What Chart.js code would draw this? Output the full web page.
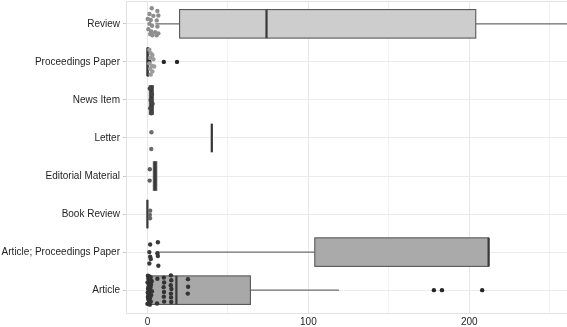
<!DOCTYPE html>
<html><head><meta charset="utf-8">
<script src="https://cdn.jsdelivr.net/npm/chart.js@4/dist/chart.umd.min.js"></script>
<style>html,body{margin:0;padding:0;background:#fff;}canvas{display:block;}</style>
</head><body>
<canvas id="c" width="567" height="327"></canvas>
<script>
// ---- data ----
const categories = ['Review','Proceedings Paper','News Item','Letter','Editorial Material','Book Review','Article; Proceedings Paper','Article'];
const whiskerLow  = [5,   0,   1.2, 40, 3.7, 0, 6,   0];
const q1          = [20,  0,   1.2, 40, 3.7, 0, 104, 0];
const median      = [74,  0,   2.5, 40, 4.8, 0, 212, 18];
const q3          = [204, 0.6, 3.7, 40, 5.8, 0, 212, 64];
const whiskerHigh = [268, 0.6, 3.7, 40, 5.8, 0, 212, 119];

const reviewVals = [2.7,6.2,1.3,3.7,6.8,0.2,2.1,5.8,1.3,2.9,6.2,0.6,2.3,4.8,6.8,1.7,3.1,5.8];
const reviewJit  = [-0.41,-0.34,-0.26,-0.21,-0.22,-0.13,-0.1,-0.09,0,0.05,0.07,0.14,0.2,0.22,0.25,0.27,0.3,0.3];
const procVals = [1.2,2.1,3.1,1.7,3.7,1.2,2.7,4.2,1.7,3.1,2.1];
const procJit  = [-0.32,-0.23,-0.18,-0.11,-0.07,0.04,0.1,0.12,0.18,0.25,0.33];
const newsVals = [1.5,2.8,2.0,3.2,1.8,2.5];
const newsJit  = [-0.3,-0.15,0,0.1,0.22,0.35];
const letterVals = [2.5,2.4];
const letterJit  = [-0.15,0.29];
const editVals = [1.5,1.4];
const editJit  = [-0.18,0.12];
const bookVals = [1.7,1.5,1.6];
const bookJit  = [-0.09,0.02,0.11];
const artProcVals = [1.7,6.5,1.2,6.2,1.7,6.5,1.2,6.8,2.1];
const artProcJit  = [-0.2,-0.26,0,0.03,0.12,0.1,0.3,0.36,0.18];
const articleVals = [0.3,1.2,2.0,0.6,1.6,2.6,0.1,1.0,2.2,0.8,1.9,0.4,1.4,2.8,0.2,1.1,2.4,0.7,1.7,0.5,1.3,2.1,0.9,0.0,1.5,2.5,0.6,1.8,0.3,1.0,
  6.2,6.0,
  10.2,10.4,10.1,10.3,10.2,10.4,
  14.6,14.8,14.5,14.9,14.6,14.7,14.8,
  25.2,25.3,25.1];
const articleJit  = [-0.38,-0.36,-0.34,-0.3,-0.27,-0.24,-0.2,-0.17,-0.14,-0.1,-0.07,-0.04,0,0.03,0.06,0.1,0.13,0.16,0.2,0.23,0.26,0.3,0.33,0.36,0.38,-0.22,0.08,-0.12,0.18,0.28,
  -0.3,0.35,
  -0.33,-0.2,-0.08,0.05,0.17,0.3,
  -0.39,-0.26,-0.13,-0.03,0.09,0.19,0.31,
  -0.29,-0.09,0.09];
const outlierCats = [1,1,1,7,7,7];
const outlierVals = [1.2,10.2,18.4,178,183,208];
const xTicks = [0,50,100,150,200,250];

// ---- styles ----
const pointGroups = [
  {cat:0, vals:reviewVals,  jit:reviewJit,  color:'#8e8e8e'},
  {cat:1, vals:procVals,    jit:procJit,    color:'#9c9c9c'},
  {cat:2, vals:newsVals,    jit:newsJit,    color:'#454545'},
  {cat:3, vals:letterVals,  jit:letterJit,  color:'#6c6c6c'},
  {cat:4, vals:editVals,    jit:editJit,    color:'#5e5e5e'},
  {cat:5, vals:bookVals,    jit:bookJit,    color:'#666666'},
  {cat:6, vals:artProcVals, jit:artProcJit, color:'#3a3a3a'},
  {cat:7, vals:articleVals, jit:articleJit, color:'#333333'}
];
const boxFills = ['#cdcdcd','#444444','#444444','#444444','#3c3c3c','#444444','#aaaaaa','#a8a8a8'];
const FONT = {family:'"Liberation Sans", Arial, Helvetica, sans-serif', size:10};

const datasets = pointGroups.map(g => ({
  data: g.vals.map((v,i) => ({x:v, y:g.cat + g.jit[i]})),
  backgroundColor: g.color, pointRadius: 2.2, pointBorderWidth: 0
}));
datasets.push({
  data: outlierVals.map((v,i) => ({x:v, y:outlierCats[i]})),
  backgroundColor:'#262626', pointRadius: 2.2, pointBorderWidth: 0
});

const boxPlugin = {
  id:'boxes',
  beforeDatasetsDraw(chart){
    const {ctx, chartArea:a, scales:{x,y}} = chart;
    ctx.save();
    ctx.strokeStyle = '#e2e2e2'; ctx.lineWidth = 1;
    ctx.beginPath(); ctx.moveTo(a.left, a.top+0.5); ctx.lineTo(a.right, a.top+0.5); ctx.stroke();
    ctx.beginPath(); ctx.rect(a.left, a.top, a.right-a.left, a.bottom-a.top); ctx.clip();
    categories.forEach((c,i) => {
      const yc = y.getPixelForValue(i);
      const p1 = y.getPixelForValue(i-0.375), p2 = y.getPixelForValue(i+0.375);
      const yt = Math.min(p1,p2), yb = Math.max(p1,p2);
      const xl = x.getPixelForValue(q1[i]), xr = x.getPixelForValue(q3[i]);
      ctx.strokeStyle = '#6e6e6e'; ctx.lineWidth = 1.1;
      ctx.beginPath();
      ctx.moveTo(x.getPixelForValue(whiskerLow[i]), yc); ctx.lineTo(xl, yc);
      ctx.moveTo(xr, yc); ctx.lineTo(x.getPixelForValue(whiskerHigh[i]), yc);
      ctx.stroke();
      ctx.fillStyle = boxFills[i];
      ctx.fillRect(xl, yt, xr-xl, yb-yt);
      ctx.strokeStyle = '#585858'; ctx.lineWidth = 1.1;
      ctx.strokeRect(xl, yt, xr-xl, yb-yt);
      const xm = x.getPixelForValue(median[i]);
      ctx.strokeStyle = '#383838'; ctx.lineWidth = 2.2;
      ctx.beginPath(); ctx.moveTo(xm, yt); ctx.lineTo(xm, yb); ctx.stroke();
    });
    ctx.restore();
  }
};

new Chart(document.getElementById('c'), {
  type:'scatter',
  data:{datasets},
  plugins:[boxPlugin],
  options:{
    responsive:false, animation:false,
    layout:{autoPadding:false, padding:{top:1,right:0,left:0,bottom:0}},
    plugins:{legend:{display:false}, tooltip:{enabled:false}},
    scales:{
      x:{
        type:'linear', min:-13.3, max:260.7,
        afterBuildTicks: s => { s.ticks = xTicks.map(v => ({value:v})); },
        afterFit: s => { s.height = 14; s.paddingLeft = 0; s.paddingRight = 0; },
        grid:{ color: c => (c.tick && c.tick.value % 100 === 0) ? '#e8e8e8' : '#f1f1f1', lineWidth:1, drawTicks:false },
        border:{display:true, color:'#e2e2e2', width:1},
        ticks:{ font:FONT, color:'#1f1f1f', padding:3, maxRotation:0, autoSkip:false,
          callback: v => (v % 100 === 0) ? String(v) : '' }
      },
      y:{
        type:'linear', min:-0.6, max:7.6, reverse:true,
        afterBuildTicks: s => { s.ticks = categories.map((c,i) => ({value:i})); },
        afterFit: s => { s.width = 126; s.paddingTop = 0; s.paddingBottom = 0; },
        grid:{ color:'#ececec', lineWidth:1, drawTicks:true, tickLength:3, tickColor:'#c8c8c8' },
        border:{display:true, color:'#e2e2e2', width:1},
        ticks:{ font:FONT, color:'#1f1f1f', padding:3, autoSkip:false,
          callback: v => categories[v] }
      }
    }
  }
});
</script>
</body></html>
